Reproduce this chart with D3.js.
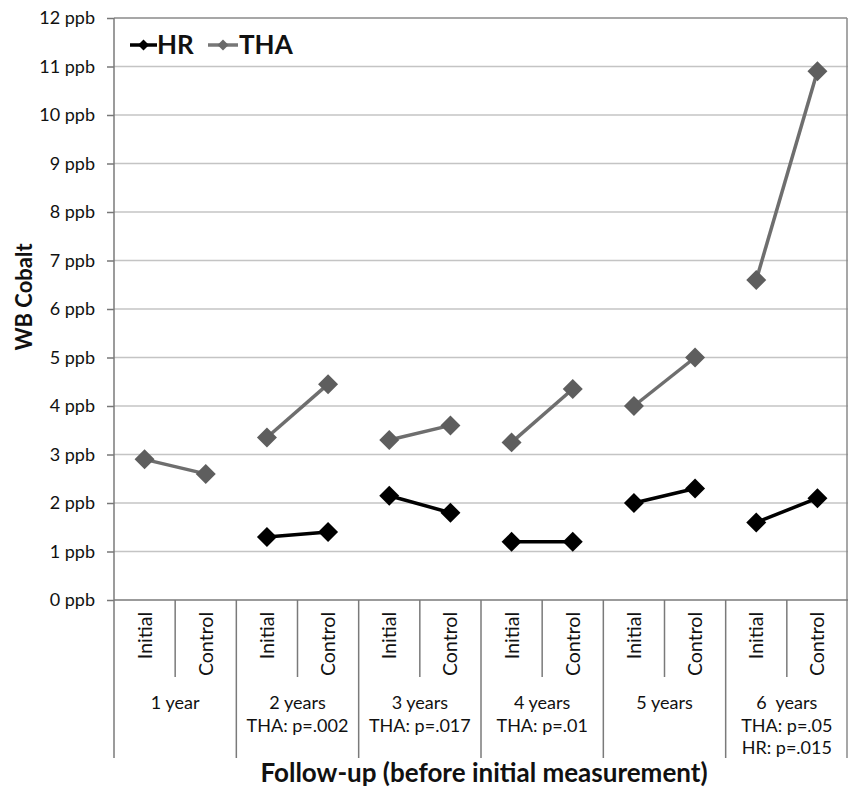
<!DOCTYPE html>
<html>
<head>
<meta charset="utf-8">
<script src="https://cdn.jsdelivr.net/npm/d3@7"></script>
<style>
  html, body { margin: 0; padding: 0; background: #fff; }
  svg { display: block; }
  text { font-family: Lato, "Open Sans", sans-serif; fill: #111; }
</style>
</head>
<body>
<svg id="chart" width="849" height="787"></svg>
<script>
// Follow-up groups and the two measurements within each group
const groups = ["1 year", "2 years", "3 years", "4 years", "5 years", "6  years"];
const groupNotes = [[], ["THA: p=.002"], ["THA: p=.017"], ["THA: p=.01"], [], ["THA: p=.05", "HR: p=.015"]];
const phases = ["Initial", "Control"];

// Whole-blood cobalt (ppb), one value per group/phase, in order
const hrValues  = [null, null, 1.3, 1.4, 2.15, 1.8, 1.2, 1.2, 2.0, 2.3, 1.6, 2.1];
const thaValues = [2.9, 2.6, 3.35, 4.45, 3.3, 3.6, 3.25, 4.35, 4.0, 5.0, 6.6, 10.9];

const yTicks = [0, 1, 2, 3, 4, 5, 6, 7, 8, 9, 10, 11, 12];

const svg = d3.select("#chart");
const plotLeft = 114, plotRight = 848, plotTop = 18, plotBottom = 600, frameBottom = 758;

const cats = d3.range(groups.length * phases.length);
const x = d3.scaleBand().domain(cats).range([plotLeft, plotRight]).padding(0);
const y = d3.scaleLinear().domain([0, 12]).range([plotBottom, plotTop]);
const bw = x.bandwidth();

// horizontal gridlines
svg.append("g").selectAll("line").data(yTicks.filter(t => t > 0 && t < 12)).join("line")
  .attr("x1", plotLeft).attr("x2", plotRight)
  .attr("y1", d => y(d)).attr("y2", d => y(d))
  .attr("stroke", "#c4c4c4").attr("stroke-width", 1.5);

// plot frame (top and right)
svg.append("line").attr("x1", plotLeft).attr("x2", plotRight - 1).attr("y1", y(12)).attr("y2", y(12))
  .attr("stroke", "#8a8a8a").attr("stroke-width", 1.5);
svg.append("line").attr("x1", plotRight - 1).attr("x2", plotRight - 1).attr("y1", y(12)).attr("y2", frameBottom)
  .attr("stroke", "#8a8a8a").attr("stroke-width", 1.5);

// y axis
const yAxis = d3.axisLeft(y).tickValues(yTicks).tickFormat(d => d + " ppb").tickSize(7).tickPadding(12);
const gy = svg.append("g").attr("transform", `translate(${plotLeft},0)`).call(yAxis);
gy.select(".domain").remove();
gy.selectAll(".tick line").attr("stroke", "#777").attr("stroke-width", 1.5);
gy.selectAll(".tick text").attr("font-family", "Lato, sans-serif").attr("font-size", 18).attr("fill", "#111");
svg.append("line").attr("x1", plotLeft).attr("x2", plotLeft).attr("y1", y(12)).attr("y2", frameBottom)
  .attr("stroke", "#7a7a7a").attr("stroke-width", 1.5);
svg.append("line").attr("x1", plotLeft).attr("x2", plotRight).attr("y1", plotBottom).attr("y2", plotBottom)
  .attr("stroke", "#7a7a7a").attr("stroke-width", 1.5);

// category dividers and group labels below the axis
groups.forEach((g, gi) => {
  const x0 = x(gi * 2);
  const xm = x(gi * 2 + 1);
  if (gi > 0) {
    svg.append("line").attr("x1", x0).attr("x2", x0).attr("y1", plotBottom).attr("y2", frameBottom)
      .attr("stroke", "#7a7a7a").attr("stroke-width", 1.5);
  }
  svg.append("line").attr("x1", xm).attr("x2", xm).attr("y1", plotBottom).attr("y2", 677)
    .attr("stroke", "#7a7a7a").attr("stroke-width", 1.5);
  svg.append("text").attr("x", xm).attr("y", 709).attr("text-anchor", "middle")
    .attr("font-size", 18).style("white-space", "pre").text(g);
  groupNotes[gi].forEach((n, ni) => {
    svg.append("text").attr("x", xm).attr("y", 732 + ni * 22).attr("text-anchor", "middle")
      .attr("font-size", 18).text(n);
  });
});

// rotated Initial / Control labels
svg.append("g").selectAll("text").data(cats).join("text")
  .attr("transform", d => `translate(${x(d) + bw / 2 + 7},612) rotate(-90)`)
  .attr("text-anchor", "end").attr("font-size", 19.5)
  .text(d => phases[d % 2]);

// series lines: one segment per follow-up group, diamond markers
const seriesData = [
  { name: "HR", values: hrValues, line: "#000", mark: "#000" },
  { name: "THA", values: thaValues, line: "#6e6e6e", mark: "#5e5e5e" }
];
const line = d3.line().x(d => x(d.i) + bw / 2).y(d => y(d.v));
const markerShape = d3.symbol().type(d3.symbolSquare).size(200)();

seriesData.forEach(s => {
  const pts = s.values.map((v, i) => ({ i, v })).filter(d => d.v != null);
  const byGroup = d3.groups(pts, d => Math.floor(d.i / 2));
  byGroup.forEach(([, seg]) => {
    svg.append("path").attr("d", line(seg)).attr("fill", "none")
      .attr("stroke", s.line).attr("stroke-width", 3.5);
  });
  svg.append("g").selectAll("path").data(pts).join("path")
    .attr("d", markerShape)
    .attr("transform", d => `translate(${x(d.i) + bw / 2},${y(d.v)}) rotate(45)`)
    .attr("fill", s.mark);
});

// legend
const legend = svg.append("g");
const legendItems = [
  { name: "HR", x0: 130, x1: 157, tx: 157, line: "#000", mark: "#000" },
  { name: "THA", x0: 208, x1: 238, tx: 239, line: "#777", mark: "#6a6a6a" }
];
legendItems.forEach(it => {
  legend.append("line").attr("x1", it.x0).attr("x2", it.x1).attr("y1", 45).attr("y2", 45)
    .attr("stroke", it.line).attr("stroke-width", 3.5);
  legend.append("path").attr("d", d3.symbol().type(d3.symbolSquare).size(60)())
    .attr("transform", `translate(${(it.x0 + it.x1) / 2},45) rotate(45)`).attr("fill", it.mark);
  legend.append("text").attr("x", it.tx).attr("y", 54)
    .attr("font-family", "'Liberation Sans', Arial, sans-serif").attr("font-weight", "bold")
    .attr("font-size", 26).text(it.name);
});

// axis titles
svg.append("text").attr("transform", `translate(32,297) rotate(-90)`)
  .attr("text-anchor", "middle").attr("font-weight", "bold").attr("font-size", 22).text("WB Cobalt");
svg.append("text").attr("x", 484).attr("y", 782)
  .attr("text-anchor", "middle").attr("font-weight", "bold").attr("font-size", 26)
  .text("Follow-up (before initial measurement)");
</script>
</body>
</html>
